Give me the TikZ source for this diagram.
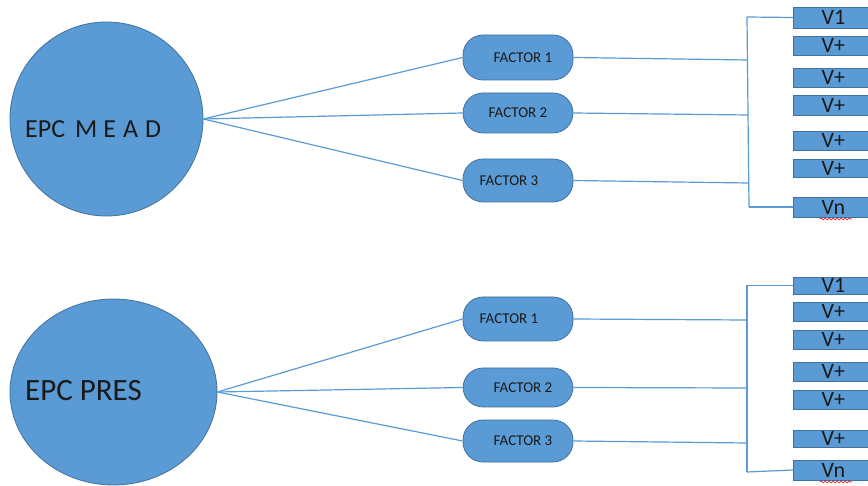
\documentclass[tikz,border=0pt]{standalone}
\usepackage{fontspec}
\setmainfont{Carlito}
\usetikzlibrary{shapes.geometric,decorations.pathmorphing}
\definecolor{ofblue}{HTML}{5B9BD5}
\definecolor{ofedge}{HTML}{41719C}
\definecolor{txt}{HTML}{1A1A1A}
\begin{document}
\begin{tikzpicture}[x=1pt,y=-1pt,
  blob/.style={ellipse,draw=ofedge,fill=ofblue,line width=0.8pt,inner sep=0pt},
  factorbox/.style={draw=ofedge,fill=ofblue,line width=0.8pt,rounded corners=20pt,minimum width=110pt,inner sep=0pt,text=txt,font=\fontsize{15}{15}\selectfont},
  vbox/.style={draw=ofedge,fill=ofblue,line width=0.8pt,minimum width=80pt,minimum height=20pt,inner sep=0pt,anchor=west,text=txt,font=\fontsize{22}{22}\selectfont},
  link/.style={draw=ofblue,line width=1.2pt},
  lbl/.style={anchor=west,inner sep=0pt,text=txt}]
\clip (0,0) rectangle (868,486);
\useasboundingbox (0,0) rectangle (868,486);
\fill[white] (0,0) rectangle (868,486);

% ---------- top group ----------
\node[blob,minimum width=193pt,minimum height=194pt] (c1) at (106.5,119) {};
\node[lbl,font=\fontsize{26}{26}\selectfont] (t1) at (25,129.5) {EPC\hspace{10pt}M\hspace{6pt}E\hspace{7pt}A\hspace{7pt}D};

\node[factorbox,minimum height=45pt] (a1) at (518,57.5) {\hspace*{10pt}FACTOR 1};
\node[factorbox,minimum height=40pt] (a2) at (518,113) {FACTOR 2};
\node[factorbox,minimum height=43pt] (a3) at (518,180.5) {FACTOR 3\hspace*{18pt}};

\node[vbox,minimum height=21pt] (u1) at (793,17.5) {V1};
\node[vbox,minimum height=19pt] (u2) at (793,45.5) {V+};
\node[vbox,minimum height=19pt] (u3) at (793,77.5) {V+};
\node[vbox,minimum height=20pt] (u4) at (793,105) {V+};
\node[vbox,minimum height=19pt] (u5) at (793,140.5) {V+};
\node[vbox,minimum height=18pt] (u6) at (793,168) {V+};
\node[vbox,minimum height=20pt] (u7) at (793,207) {Vn};

\coordinate (ub1) at (747,17);
\coordinate (ub2) at (747.5,60);
\coordinate (ub3) at (748,115);
\coordinate (ub4) at (748.5,183);
\coordinate (ub5) at (749,207);

\draw[link] (c1.east) -- (a1.west);
\draw[link] (c1.east) -- (a2.west);
\draw[link] (c1.east) -- (a3.west);
\draw[link] (a1.east) -- (ub2);
\draw[link] (a2.east) -- (ub3);
\draw[link] (a3.east) -- (ub4);
\draw[link] (ub1) -- (ub5);
\draw[link] (ub1) -- (u1.west);
\draw[link] (ub5) -- (u7.west);
\draw[red,line width=0.6pt,decorate,decoration={snake,segment length=4pt,amplitude=1pt}] (820,219) -- (852,219);

% ---------- bottom group ----------
\node[blob,minimum width=207pt,minimum height=186pt] (c2) at (113.5,392) {};
\node[lbl,font=\fontsize{31}{31}\selectfont] (t2) at (25,391) {EPC PRES};

\node[factorbox,minimum height=44pt] (b1) at (518,319) {FACTOR 1\hspace*{18pt}};
\node[factorbox,minimum height=39pt] (b2) at (518,387.5) {\hspace*{10pt}FACTOR 2};
\node[factorbox,minimum height=42pt] (b3) at (518,441) {\hspace*{10pt}FACTOR 3};

\node[vbox,minimum height=17pt] (w1) at (793,285.5) {V1};
\node[vbox,minimum height=19pt] (w2) at (793,311.5) {V+};
\node[vbox,minimum height=19pt] (w3) at (793,339.5) {V+};
\node[vbox,minimum height=19pt] (w4) at (793,371.5) {V+};
\node[vbox,minimum height=19pt] (w5) at (793,399.5) {V+};
\node[vbox,minimum height=17pt] (w6) at (793,438.5) {V+};
\node[vbox,minimum height=20pt] (w7) at (793,470) {Vn};

\coordinate (wb1) at (747,285.5);
\coordinate (wb2) at (747,320);
\coordinate (wb3) at (747,388);
\coordinate (wb4) at (747,443);
\coordinate (wb5) at (747,472);

\draw[link] (c2.east) -- (b1.west);
\draw[link] (c2.east) -- (b2.west);
\draw[link] (c2.east) -- (b3.west);
\draw[link] (b1.east) -- (wb2);
\draw[link] (b2.east) -- (wb3);
\draw[link] (b3.east) -- (wb4);
\draw[link] (wb1) -- (wb5);
\draw[link] (wb1) -- (w1.west);
\draw[link] (wb5) -- (w7.west);
\draw[red,line width=0.6pt,decorate,decoration={snake,segment length=4pt,amplitude=1pt}] (820,482) -- (852,482);
\end{tikzpicture}
\end{document}
